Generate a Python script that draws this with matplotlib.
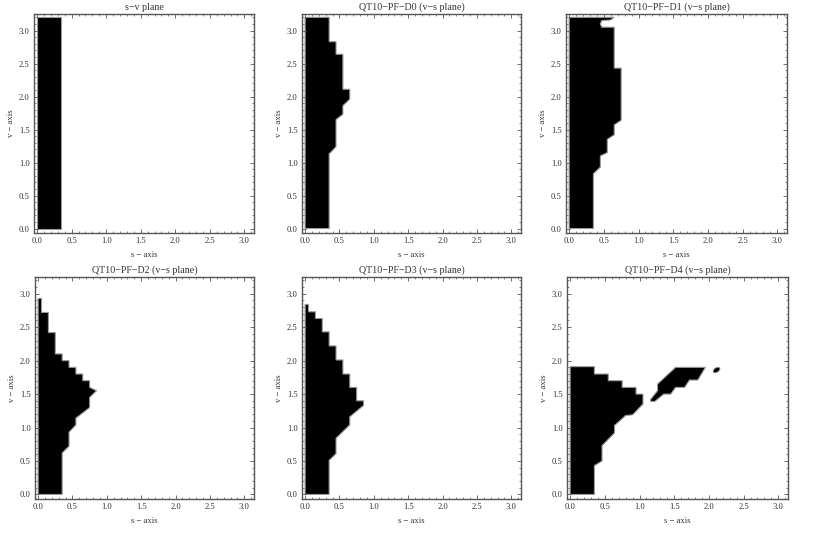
import numpy as np
import matplotlib
matplotlib.use("Agg")
import matplotlib.pyplot as plt
from matplotlib.patches import Polygon, Ellipse
from matplotlib.ticker import MultipleLocator

plt.rcParams['font.family'] = ['Liberation Serif', 'DejaVu Serif']

# ---------------------------
# region boundaries (s, v)
# ---------------------------
titles = ["s\u2212v plane",
          "QT10\u2212PF\u2212D0 (v\u2212s plane)",
          "QT10\u2212PF\u2212D1 (v\u2212s plane)",
          "QT10\u2212PF\u2212D2 (v\u2212s plane)",
          "QT10\u2212PF\u2212D3 (v\u2212s plane)",
          "QT10\u2212PF\u2212D4 (v\u2212s plane)"]

s_sv = [0, 0.35, 0.35, 0]
v_sv = [0, 0, 3.2, 3.2]

s_d0 = [0, 0, 0.35, 0.35, 0.45, 0.45, 0.55, 0.55, 0.65, 0.65, 0.55, 0.55, 0.45, 0.45, 0.35, 0.35]
v_d0 = [0, 3.2, 3.2, 2.83, 2.83, 2.64, 2.64, 2.11, 2.11, 1.96, 1.86, 1.73, 1.65, 1.24, 1.13, 0]

s_d1 = [0, 0, 0.65, 0.6, 0.47, 0.45, 0.47, 0.65, 0.65, 0.75, 0.75, 0.65, 0.65,
        0.55, 0.55, 0.45, 0.45, 0.35, 0.35]
v_d1 = [0, 3.2, 3.2, 3.16, 3.15, 3.1, 3.05, 3.05, 2.43, 2.43, 1.64, 1.57, 1.42,
        1.35, 1.15, 1.1, 0.93, 0.83, 0]

s_d2 = [0, 0, 0.05, 0.05, 0.15, 0.15, 0.25, 0.25, 0.35, 0.35, 0.45, 0.45, 0.55, 0.55,
        0.65, 0.65, 0.75, 0.75, 0.85, 0.75, 0.75, 0.65, 0.55, 0.55, 0.45, 0.45, 0.35, 0.35]
v_d2 = [0, 2.93, 2.93, 2.72, 2.72, 2.42, 2.42, 2.1, 2.1, 2.0, 2.0, 1.9, 1.9, 1.8,
        1.8, 1.7, 1.7, 1.6, 1.55, 1.45, 1.3, 1.22, 1.14, 1.04, 0.93, 0.72, 0.62, 0]

s_d3 = [0, 0, 0.05, 0.05, 0.15, 0.15, 0.25, 0.25, 0.35, 0.35, 0.45, 0.45, 0.55, 0.55,
        0.65, 0.65, 0.75, 0.75, 0.85, 0.85, 0.65, 0.65, 0.55, 0.45, 0.45, 0.35, 0.35]
v_d3 = [0, 2.84, 2.84, 2.73, 2.73, 2.63, 2.63, 2.43, 2.43, 2.22, 2.22, 2.01, 2.01, 1.8,
        1.8, 1.6, 1.6, 1.4, 1.4, 1.33, 1.16, 1.04, 0.94, 0.84, 0.61, 0.51, 0]

s_d4 = [0, 0, 0.35, 0.35, 0.55, 0.55, 0.75, 0.75, 0.95, 0.95, 1.05, 1.05, 0.9, 0.8,
        0.64, 0.64, 0.46, 0.46, 0.35, 0.35]
v_d4 = [0, 1.91, 1.91, 1.8, 1.8, 1.7, 1.7, 1.6, 1.6, 1.5, 1.5, 1.35, 1.19, 1.18,
        1.03, 0.92, 0.73, 0.5, 0.43, 0]

# the detached piece and the little blob in D4
s_d4b = [1.16, 1.26, 1.26, 1.52, 1.95, 1.84, 1.72, 1.65, 1.52, 1.45, 1.35, 1.22, 1.16]
v_d4b = [1.42, 1.55, 1.65, 1.9, 1.9, 1.71, 1.71, 1.6, 1.6, 1.5, 1.5, 1.39, 1.39]
blob_center = (2.11, 1.86)
blob_size = (0.11, 0.065)
blob_angle = 35

regions = [[(s_sv, v_sv)],
           [(s_d0, v_d0)],
           [(s_d1, v_d1)],
           [(s_d2, v_d2)],
           [(s_d3, v_d3)],
           [(s_d4, v_d4), (s_d4b, v_d4b)]]

W, H = 830, 554
# axes boxes in pixels: left, top, width, height
boxes = [(34, 14, 220, 219), (302, 14, 219, 219), (566, 14, 221, 219),
         (35, 277, 219, 222), (302, 277, 219, 222), (567, 277, 221, 222)]

fig = plt.figure(figsize=(W / 100, H / 100), dpi=100)
frame_col = '#555555'
text_col = '#333333'

for i, (l, t, w, h) in enumerate(boxes):
    ax = fig.add_axes([l / W, (H - t - h) / H, w / W, h / H])
    for s, v in regions[i]:
        ax.add_patch(Polygon(np.column_stack([s, v]), closed=True,
                             facecolor='black', edgecolor='#999999', linewidth=0.8))
    if i == 5:
        ax.add_patch(Ellipse(blob_center, blob_size[0], blob_size[1], angle=blob_angle,
                             facecolor='black', edgecolor='#999999', linewidth=0.6))
    ax.set_xlim(-0.045, 3.14)
    ax.set_ylim(-0.068, 3.25)
    ax.xaxis.set_major_locator(MultipleLocator(0.5))
    ax.yaxis.set_major_locator(MultipleLocator(0.5))
    ax.xaxis.set_minor_locator(MultipleLocator(0.1))
    ax.yaxis.set_minor_locator(MultipleLocator(0.1))
    ax.xaxis.set_major_formatter(plt.FuncFormatter(lambda x, p: f"{x:.1f}"))
    ax.yaxis.set_major_formatter(plt.FuncFormatter(lambda x, p: f"{x:.1f}"))
    ax.tick_params(which='both', direction='in', top=True, right=True,
                   color=frame_col, labelsize=6.2, labelcolor=text_col, pad=3)
    ax.tick_params(which='major', length=3, width=0.6)
    ax.tick_params(which='minor', length=1.5, width=0.5)
    for sp in ax.spines.values():
        sp.set_color(frame_col)
        sp.set_linewidth(1.0)
    ax.set_title(titles[i], fontsize=7.2, color=text_col, pad=3)
    ax.set_xlabel("s \u2212 axis", fontsize=6.2, color=text_col, labelpad=4)
    ax.set_ylabel("v \u2212 axis", fontsize=6.2, color=text_col, labelpad=3)

fig.savefig("out.png", dpi=100)
